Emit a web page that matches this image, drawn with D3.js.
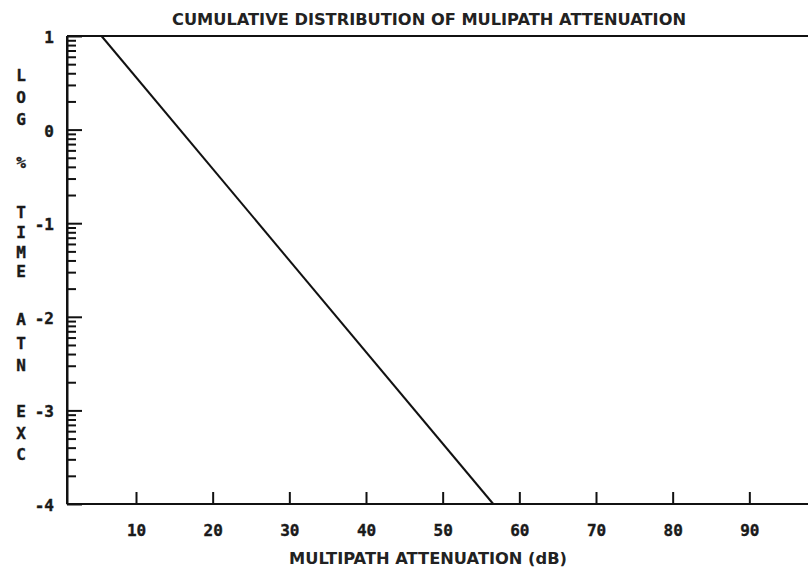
<!DOCTYPE html>
<html>
<head>
<meta charset="utf-8">
<script src="https://cdn.jsdelivr.net/npm/d3@7"></script>
<style>
  body { margin: 0; background: #fff; }
  svg { display: block; }
  .axis path, .axis line { stroke: #111; stroke-width: 2; }
  .digits { font-family: "DejaVu Sans Mono", monospace; font-weight: bold; font-size: 16px; fill: #1a1a1a; stroke: #1a1a1a; stroke-width: 0.4; }
</style>
</head>
<body>
<div id="chart"></div>
<script>
// chart values
let titleText = "CUMULATIVE DISTRIBUTION OF MULIPATH ATTENUATION";
let xTitle = "MULTIPATH ATTENUATION (dB)";
let yLetters = ["L", "O", "G", "%", "T", "I", "M", "E", "A", "T", "N", "E", "X", "C"];
let xTicks = [10, 20, 30, 40, 50, 60, 70, 80, 90];
let yMajor = [1, 0, -1, -2, -3, -4];
// the single straight line (attenuation dB, log % time exceeded)
let lineAtten = [5.5, 56.6];
let lineLogPct = [1, -4];

let width = 808, height = 570;
let margin = {top: 36, right: 0, bottom: 66, left: 67};

// row positions of the stacked y title letters (layout only)
let letterRows = [0, 1, 2, 4, 6.3, 7.2, 8.1, 9, 11.2, 12.3, 13.3, 15.4, 16.4, 17.4];

let svg = d3.select("#chart").append("svg")
  .attr("width", width)
  .attr("height", height);

// Scales
let x = d3.scaleLinear().domain([1, 100]).range([margin.left, 826]);
let y = d3.scaleLinear().domain([1, -4]).range([margin.top, height - margin.bottom]);

// minor log ticks inside each decade
let yMinor = [];
for (let d = -4; d < 1; d++) {
  for (let k = 2; k <= 9; k++) yMinor.push(d + Math.log10(k));
}

// frame top line
svg.append("line")
  .attr("x1", margin.left).attr("x2", width)
  .attr("y1", y(1)).attr("y2", y(1))
  .attr("stroke", "#111").attr("stroke-width", 2);

// y axis minor ticks
svg.append("g").attr("class", "axis")
  .attr("transform", "translate(" + margin.left + ",0)")
  .call(d3.axisLeft(y).tickValues(yMinor).tickSize(-9).tickSizeOuter(0).tickFormat(""));

// y axis major ticks (plain hyphen for the minus sign)
let yAx = svg.append("g").attr("class", "axis")
  .attr("transform", "translate(" + margin.left + ",0)")
  .call(d3.axisLeft(y).tickValues(yMajor).tickSize(-15).tickSizeOuter(0).tickFormat(d => String(d)).tickPadding(13));
yAx.attr("font-size", null).attr("font-family", null);
yAx.selectAll("text").attr("class", "digits").attr("dy", "0.4em");
yAx.select(".domain").remove();
svg.append("line")
  .attr("x1", margin.left).attr("x2", margin.left)
  .attr("y1", y(1)).attr("y2", y(-4))
  .attr("stroke", "#111").attr("stroke-width", 2);

// x axis
let xAx = svg.append("g").attr("class", "axis")
  .attr("transform", "translate(0," + y(-4) + ")")
  .call(d3.axisBottom(x).tickValues(xTicks).tickSize(-12).tickSizeOuter(0).tickPadding(21));
xAx.attr("font-size", null).attr("font-family", null);
xAx.select(".domain").remove();
xAx.selectAll("text").attr("class", "digits");
svg.append("line")
  .attr("x1", margin.left).attr("x2", width)
  .attr("y1", y(-4)).attr("y2", y(-4))
  .attr("stroke", "#111").attr("stroke-width", 2);

// the data line
let pts = lineAtten.map((a, i) => [a, lineLogPct[i]]);
svg.append("path")
  .datum(pts)
  .attr("fill", "none")
  .attr("stroke", "#111")
  .attr("stroke-width", 2)
  .attr("d", d3.line().x(d => x(d[0])).y(d => y(d[1])));

// title
svg.append("text")
  .attr("x", 429).attr("y", 25)
  .attr("text-anchor", "middle")
  .attr("textLength", 514)
  .attr("lengthAdjust", "spacingAndGlyphs")
  .style("font-family", "'DejaVu Sans', sans-serif")
  .style("font-weight", "bold")
  .style("font-size", "16px")
  .style("fill", "#222")
  .text(titleText);

// x title
svg.append("text")
  .attr("x", 428).attr("y", 564)
  .attr("text-anchor", "middle")
  .attr("textLength", 278)
  .attr("lengthAdjust", "spacingAndGlyphs")
  .style("font-family", "'DejaVu Sans', sans-serif")
  .style("font-weight", "bold")
  .style("font-size", "15px")
  .style("fill", "#222")
  .text(xTitle);

// vertical y title, one letter per row
svg.append("g").selectAll("text")
  .data(yLetters)
  .join("text")
  .attr("class", "digits")
  .attr("x", 21)
  .attr("y", (d, i) => 81 + letterRows[i] * 21.8)
  .attr("text-anchor", "middle")
  .text(d => d);
</script>
</body>
</html>
